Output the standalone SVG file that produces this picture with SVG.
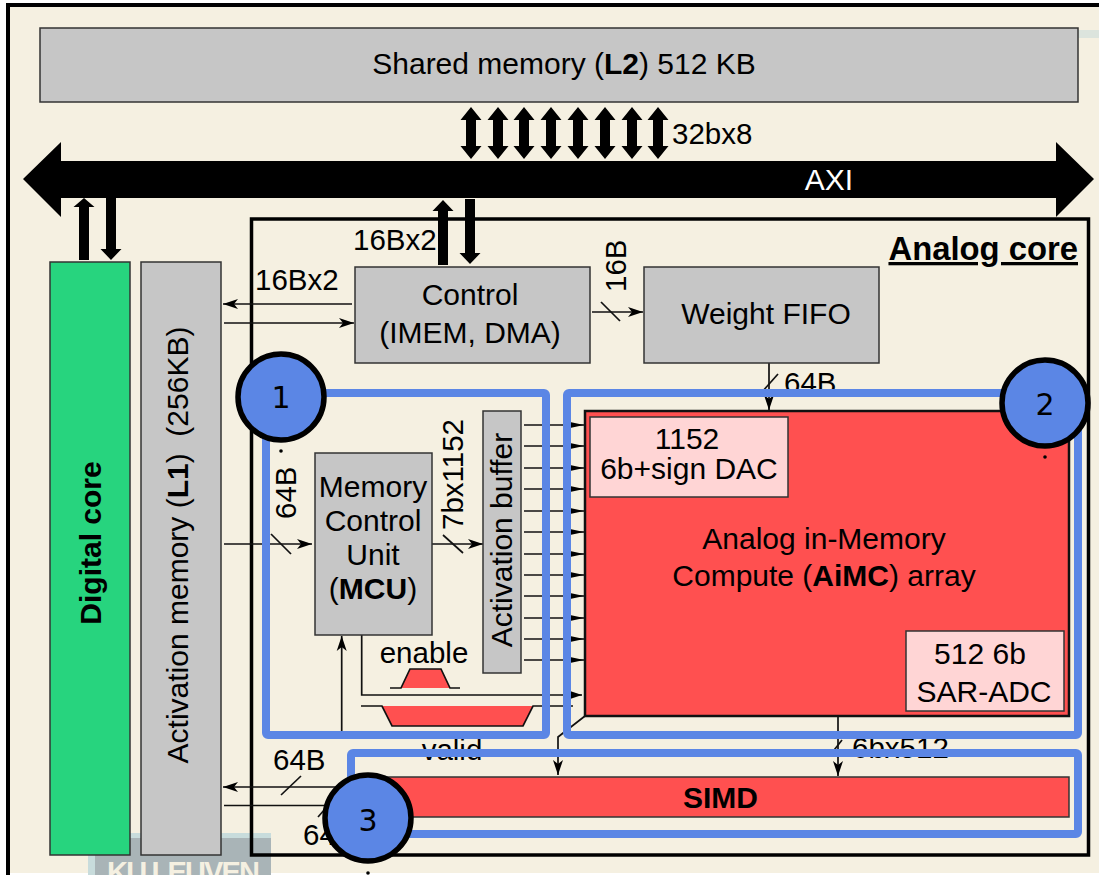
<svg xmlns="http://www.w3.org/2000/svg" width="1099" height="875" viewBox="0 0 1099 875">
<style>
text{font-family:"Liberation Sans",Arial,sans-serif;fill:#000}
.t{font-size:30px}
.l{font-size:29.500px}
.m{text-anchor:middle}
.b{font-weight:bold}
.box{fill:#c6c6c6;stroke:#333;stroke-width:1.500}
.pink{fill:#ffd5d5;stroke:#333;stroke-width:1.500}
.thin{fill:none;stroke:#111;stroke-width:1.700}
.head{fill:#000;stroke:none}
.hl{fill:none;stroke:#5b86e5;stroke-width:8;stroke-linejoin:round}
.num{fill:#5b86e5;stroke:#000;stroke-width:5.500}
.numt{font-family:"DejaVu Sans",sans-serif;font-size:30px;text-anchor:middle}
</style>
<defs>
<marker id="a" markerUnits="userSpaceOnUse" markerWidth="16" markerHeight="12" refX="15" refY="6" orient="auto"><path d="M0 1L15 6L0 11L4 6Z" fill="#000"/></marker>
<marker id="f" markerUnits="userSpaceOnUse" markerWidth="16" markerHeight="8" refX="14" refY="4" orient="auto"><path d="M0 1L14 4L0 7Z" fill="#000"/></marker>
<path id="dbl" d="M0 0L10.500 13H5V39H10.500L0 52L-10.500 39H-5V13H-10.500Z" fill="#000"/>
</defs>

<rect width="1099" height="875" fill="#fff"/>
<rect x="6" y="3" width="1093" height="870" fill="#f5f0e1"/>
<rect x="1078" y="30" width="21" height="8" fill="#dce4dd"/>

<g id="watermark">
<rect x="88" y="833" width="183" height="42" fill="#c8dcdc"/>
<rect x="95" y="838" width="176" height="37" fill="#a9b4b7"/>
<text x="107" y="882" font-size="29" font-weight="bold" style="fill:#f5f0e1" textLength="153">KU LEUVEN</text>
</g>

<path d="M8 875V5H1099" fill="none" stroke="#000" stroke-width="4"/>

<g id="shared-memory">
<rect class="box" x="40" y="28" width="1038" height="74"/>
<text class="t m" x="564" y="74">Shared memory (<tspan class="b">L2</tspan>) 512 KB</text>
</g>

<g id="axi">
<path d="M23 179L61 142V161H1056V142L1094 179L1056 217V198H61V217Z" fill="#000"/>
<text x="829" y="190" font-size="30" class="m" style="fill:#fff">AXI</text>
</g>

<g id="analog-core">
<rect x="251.500" y="219" width="837" height="636" fill="none" stroke="#000" stroke-width="3.500"/>
<text x="1078" y="260" font-size="32.800" class="b" text-anchor="end" text-decoration="underline">Analog core</text>
</g>

<g id="connectors">
<use href="#dbl" x="471" y="107"/><use href="#dbl" x="498" y="107"/><use href="#dbl" x="524" y="107"/><use href="#dbl" x="551" y="107"/>
<use href="#dbl" x="578" y="107"/><use href="#dbl" x="605" y="107"/><use href="#dbl" x="632" y="107"/><use href="#dbl" x="658" y="107"/>
<path class="head" d="M84 198L94.500 207H89V260H79V207H73.500Z"/>
<path class="head" d="M106 198H116V249H121.500L111 260L100.500 249H106Z"/>
<path class="head" d="M443 200L453.500 211H448V265H438V211H432.500Z"/>
<path class="head" d="M465 199H475V253H480.500L470 264L459.500 253H465Z"/>

<line class="thin" x1="352" y1="304" x2="223" y2="304" marker-end="url(#a)"/>
<line class="thin" x1="224" y1="323" x2="354" y2="323" marker-end="url(#a)"/>
<line class="thin" x1="592" y1="312" x2="643" y2="312" marker-end="url(#a)"/>
<line class="thin" x1="601" y1="302" x2="620" y2="321"/>
<line class="thin" x1="769" y1="363" x2="769" y2="410" marker-end="url(#a)"/>
<line class="thin" x1="778" y1="374" x2="762" y2="392"/>
<line class="thin" x1="224" y1="544" x2="312" y2="544" marker-end="url(#a)"/>
<line class="thin" x1="271" y1="534" x2="291" y2="554"/>
<line class="thin" x1="432" y1="544" x2="483" y2="544" marker-end="url(#a)"/>
<line class="thin" x1="443" y1="535" x2="463" y2="553"/>
<line class="thin" x1="524" y1="425" x2="584" y2="425" marker-end="url(#f)"/>
<line class="thin" x1="524" y1="446" x2="584" y2="446" marker-end="url(#f)"/>
<line class="thin" x1="524" y1="468" x2="584" y2="468" marker-end="url(#f)"/>
<line class="thin" x1="524" y1="489" x2="584" y2="489" marker-end="url(#f)"/>
<line class="thin" x1="524" y1="511" x2="584" y2="511" marker-end="url(#f)"/>
<line class="thin" x1="524" y1="532" x2="584" y2="532" marker-end="url(#f)"/>
<line class="thin" x1="524" y1="554" x2="584" y2="554" marker-end="url(#f)"/>
<line class="thin" x1="524" y1="575" x2="584" y2="575" marker-end="url(#f)"/>
<line class="thin" x1="524" y1="596" x2="584" y2="596" marker-end="url(#f)"/>
<line class="thin" x1="524" y1="618" x2="584" y2="618" marker-end="url(#f)"/>
<line class="thin" x1="524" y1="639" x2="584" y2="639" marker-end="url(#f)"/>
<line class="thin" x1="524" y1="660" x2="584" y2="660" marker-end="url(#f)"/>
<line class="thin" x1="341.700" y1="733" x2="341.700" y2="636" marker-end="url(#a)"/>
<path class="thin" d="M361.700 635V695H582" marker-end="url(#a)"/>
<path class="thin" d="M585 716L558 737V775" marker-end="url(#a)"/>
<line class="thin" x1="838" y1="716" x2="838" y2="776" marker-end="url(#a)"/>
<line class="thin" x1="842" y1="740" x2="831" y2="754"/>
<line class="thin" x1="347" y1="787" x2="223" y2="787" marker-end="url(#a)"/>
<line class="thin" x1="281" y1="795" x2="301" y2="776"/>
<line class="thin" x1="224" y1="805.500" x2="335" y2="805.500"/>
<line class="thin" x1="318" y1="817" x2="332" y2="801"/>
</g>

<g id="connector-labels">
<text class="l" x="672" y="144">32bx8</text>
<text class="l" x="353" y="250">16Bx2</text>
<text class="l" x="255" y="290">16Bx2</text>
<text class="l" transform="translate(626 292) rotate(-90)">16B</text>
<text class="l" x="784" y="393">64B</text>
<text class="l" transform="translate(296 519) rotate(-90)">64B</text>
<text class="l" transform="translate(463 530) rotate(-90)">7bx1152</text>
<text class="l" x="852" y="758">6bx512</text>
<text class="l" x="273" y="770">64B</text>
<text class="l" x="303" y="845">64B</text>
<text class="l m" x="452" y="760">valid</text>
<text class="l m" x="424" y="663">enable</text>
</g>

<g id="digital-core">
<rect x="50" y="262" width="80" height="593" fill="#27d47e" stroke="#333" stroke-width="1.500"/>
<text class="b m" font-size="30" transform="translate(101 543) rotate(-90)">Digital core</text>
</g>

<g id="activation-memory">
<rect class="box" x="141" y="262" width="80" height="593"/>
<text class="m" font-size="30" transform="translate(188 545) rotate(-90)">Activation memory (<tspan class="b">L1</tspan>)&#160; (256KB)</text>
</g>

<g id="control">
<rect class="box" x="355" y="267" width="235" height="96"/>
<text class="t m" x="470" y="305">Control</text>
<text class="t m" x="470" y="343">(IMEM, DMA)</text>
</g>

<g id="weight-fifo">
<rect class="box" x="644" y="267" width="235" height="96"/>
<text class="t m" x="766" y="324">Weight FIFO</text>
</g>

<g id="mcu">
<rect class="box" x="315" y="453" width="117" height="182"/>
<text class="t m" x="373" y="497">Memory</text>
<text class="t m" x="373" y="531">Control</text>
<text class="t m" x="373" y="565">Unit</text>
<text class="t m" x="373" y="599">(<tspan class="b">MCU</tspan>)</text>
</g>

<g id="activation-buffer">
<rect class="box" x="483" y="411" width="38" height="262"/>
<text class="t m" transform="translate(512 540) rotate(-90)">Activation buffer</text>
</g>

<g id="enable-signal">
<path d="M401 688L410 669H441L450 688Z" fill="#ff5050"/>
<path class="thin" d="M390 688H401L410 669H441L450 688H460"/>
</g>

<g id="valid-signal">
<path d="M382 706L392 726H523L533 706Z" fill="#ff5050"/>
<path class="thin" d="M361 706H382L392 726H523L533 706H573"/>
</g>

<g id="aimc">
<rect x="585" y="411" width="484" height="305" fill="#ff5050" stroke="#111" stroke-width="2.500"/>
<rect class="pink" x="590" y="417" width="198" height="80"/>
<text class="t m" x="687" y="449">1152</text>
<text class="t m" x="689" y="479">6b+sign DAC</text>
<rect class="pink" x="906" y="631" width="158" height="80"/>
<text class="t m" x="980" y="664">512 6b</text>
<text class="t m" x="984" y="702">SAR-ADC</text>
<text class="t m" x="824" y="549">Analog in-Memory</text>
<text class="t m" x="824" y="586">Compute (<tspan class="b">AiMC</tspan>) array</text>
</g>

<g id="simd">
<rect x="372" y="777" width="697" height="40" fill="#ff5050" stroke="#333" stroke-width="1.500"/>
<text class="t m b" x="720.500" y="808">SIMD</text>
</g>

<g id="highlight-1"><rect class="hl" x="266" y="393" width="280" height="342" rx="2"/></g>
<g id="highlight-2"><rect class="hl" x="567" y="393" width="511" height="342" rx="2"/></g>
<g id="highlight-3"><rect class="hl" x="351" y="753" width="727" height="81" rx="2"/></g>

<g id="badge-1">
<circle class="num" cx="281" cy="397" r="43"/>
<text class="numt" x="281" y="408">1</text>
<circle cx="281" cy="451" r="1.800"/>
</g>
<g id="badge-2">
<circle class="num" cx="1045" cy="403" r="43"/>
<text class="numt" x="1045" y="415">2</text>
<circle cx="1045" cy="457" r="1.800"/>
</g>
<g id="badge-3">
<circle class="num" cx="368" cy="818" r="43"/>
<text class="numt" x="368" y="831">3</text>
<circle cx="368" cy="873" r="1.800"/>
</g>
</svg>
